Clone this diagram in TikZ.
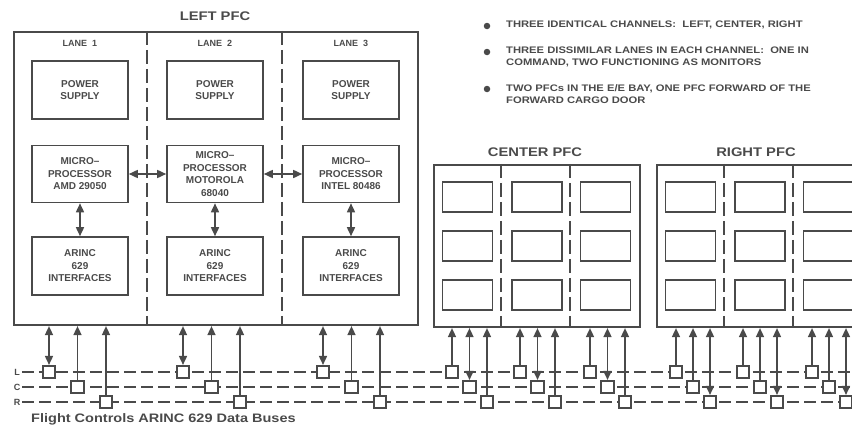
\documentclass[tikz,border=0pt]{standalone}
\usepackage{fontspec}
\usetikzlibrary{arrows.meta}
\newfontfamily\pfcfont{Liberation Sans}
\newfontfamily\notefont{Liberation Sans}[FakeStretch=1.18]
\definecolor{ink}{HTML}{4A4A4A}
\tikzset{
  unit/.style={draw=ink, line width=1.6pt, minimum width=96pt, minimum height=58pt,
    align=center, text=ink, font=\pfcfont\bfseries\fontsize{10}{12.5}\selectfont},
  cell/.style={draw=ink, line width=1.6pt, minimum width=50pt, minimum height=30pt},
  pfcbox/.style={draw=ink, line width=2.2pt},
  lanesep/.style={draw=ink, line width=1.6pt, dash pattern=on 14pt off 5pt},
  busline/.style={draw=ink, line width=1.6pt, dash pattern=on 12pt off 5pt},
  bussq/.style={draw=ink, fill=white, line width=1.6pt, minimum size=12.5pt, inner sep=0pt},
  link/.style={draw=ink, line width=1.6pt},
  title/.style={text=ink, font=\notefont\bfseries\fontsize{12.5}{14}\selectfont},
  lanelabel/.style={text=ink, font=\pfcfont\bfseries\fontsize{9}{10}\selectfont},
  buslabel/.style={text=ink, inner sep=2pt, font=\pfcfont\bfseries\fontsize{9}{10}\selectfont},
  bullet/.style={circle, fill=ink, minimum size=6.5pt, inner sep=0pt},
  note/.style={text=ink, align=left, inner sep=0pt, font=\notefont\bfseries\fontsize{9.5}{12}\selectfont},
  caption/.style={text=ink, inner sep=0pt, font=\notefont\bfseries\fontsize{12.3}{14}\selectfont}
}
\begin{document}
\begin{tikzpicture}[x=1pt, y=-1pt, >={Triangle[length=9pt,width=8pt]}]
  \useasboundingbox (0,0) rectangle (852,434);
  \clip (0,0) rectangle (852,434);

  % left PFC, three lanes
  \node[pfcbox, minimum width=404pt, minimum height=293pt] (lpfc) at (216,178.5) {};
  \node[title] (lpfc-title) at (215,16) {LEFT PFC};
  \foreach \dx in {134,269}
    \draw[lanesep] ([xshift=\dx pt]lpfc.north west) -- ([xshift=\dx pt]lpfc.south west);
  \foreach \lx/\cpu [count=\n] in {80/AMD 29050, 215/MOTOROLA\\68040, 351/INTEL 80486} {
    \node[lanelabel] (lane-\n) at (\lx,43) {LANE\ \ \n};
    \node[unit] (power-\n) at (\lx,90) {POWER\\SUPPLY};
    \node[unit, minimum height=57pt] (micro-\n) at (\lx,174) {MICRO–\\PROCESSOR\\\cpu};
    \node[unit] (arinc-\n) at (\lx,266) {ARINC\\629\\INTERFACES};
    \draw[link,<->] (micro-\n) -- (arinc-\n);
  }
  \draw[link,<->] (micro-1) -- (micro-2);
  \draw[link,<->] (micro-2) -- (micro-3);

  % center and right PFC
  \node[pfcbox, minimum width=206pt, minimum height=162pt] (cpfc) at (537,246) {};
  \node[pfcbox, minimum width=206pt, minimum height=162pt] (rpfc) at (760,246) {};
  \node[title] (cpfc-title) at (535,152) {CENTER PFC};
  \node[title] (rpfc-title) at (756,152) {RIGHT PFC};
  \foreach \pfc in {cpfc,rpfc} {
    \foreach \dx in {68,137}
      \draw[lanesep] ([xshift=\dx pt]\pfc.north west) -- ([xshift=\dx pt]\pfc.south west);
    \foreach \cx [count=\c] in {34.5,104,172.5}
      \foreach \cy [count=\r] in {33,82,131}
        \node[cell] (\pfc-cell-\r-\c) at ([xshift=\cx pt, yshift=-\cy pt]\pfc.north west) {};
  }

  % data buses
  \foreach \bus/\by in {L/372,C/387,R/402} {
    \node[buslabel] (lbl-\bus) at (17,\by) {\bus};
    \coordinate (end-\bus) at (852,\by);
    \draw[busline] (lbl-\bus.east) -- (end-\bus);
  }
  \foreach \pfc/\own/\dx/\lanes in {lpfc/1/28.5/{49,183,323}, cpfc/2/17.5/{452,520,590}, rpfc/3/17/{676,743,812}} {
    \foreach \lx [count=\n] in \lanes {
      \foreach \bus/\by [count=\b] in {L/372,C/387,R/402} {
        \node[bussq] (\pfc-\n-\bus) at (\lx+\b*\dx-\dx,\by) {};
        \ifnum\b=\own
          \draw[link,<->] (\pfc-\n-\bus.north) -- (\pfc-\n-\bus.north |- \pfc.south);
        \else
          \draw[link,->] (\pfc-\n-\bus.north) -- (\pfc-\n-\bus.north |- \pfc.south);
        \fi
      }
    }
  }
  \node[caption, anchor=west] (caption) at (31,419) {Flight Controls ARINC 629 Data Buses};

  % notes
  \foreach \by/\txt [count=\n] in {26/{THREE IDENTICAL CHANNELS:\ \ LEFT, CENTER, RIGHT},
      52/{THREE DISSIMILAR LANES IN EACH CHANNEL:\ \ ONE IN\\COMMAND, TWO FUNCTIONING AS MONITORS},
      89/{TWO PFCs IN THE E/E BAY, ONE PFC FORWARD OF THE\\FORWARD CARGO DOOR}} {
    \node[bullet] (dot-\n) at (487,\by) {};
    \node[note, anchor=north west] (note-\n) at (506,\by-5) {\txt};
  }
\end{tikzpicture}
\end{document}
